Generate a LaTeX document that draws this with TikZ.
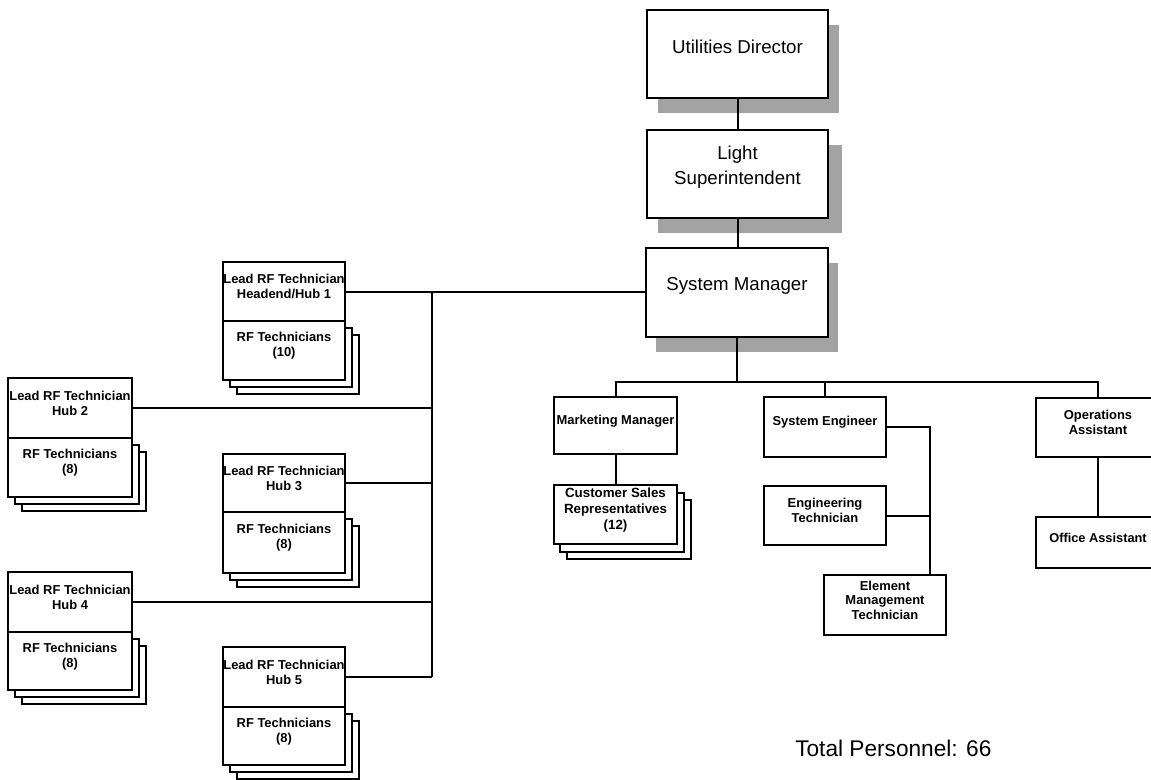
\documentclass[tikz,border=0pt]{standalone}
\usepackage{fontspec}
\setmainfont{Liberation Sans}
\usetikzlibrary{fit}

% A lead box over a stacked "RF Technicians" box.
% #1 name, #2 left, #3 right, #4 top, #5 divider, #6 bottom, #7 hub label, #8 head count
\newcommand\rfstack[8]{%
  \draw[layer] (#2+14,#5+14) rectangle (#3+14,#6+14);
  \draw[layer] (#2+7,#5+7) rectangle (#3+7,#6+7);
  \node[small, fit={(#2,#4) (#3,#5)}] (#1) {Lead RF Technician\\#7};
  \node[small, fit={(#2,#5) (#3,#6)}] (#1t) {RF Technicians\\(#8)};
}

\begin{document}
\begin{tikzpicture}[x=0.75pt,y=-0.75pt,
  box/.style={draw, fill=white, inner sep=0pt, outer sep=0pt, align=center, line width=1.5pt},
  big/.style={box, font=\fontsize{14}{19}\selectfont},
  small/.style={box, font=\bfseries\fontsize{9.7}{11.2}\selectfont},
  shade/.style={fill=black!36, draw=none},
  layer/.style={draw, fill=white, line width=1.5pt},
  wire/.style={line width=1.5pt}]

\useasboundingbox (0,0) rectangle (1151,780);
\clip (0,0) rectangle (1151,780);

% top of the chart, with drop shadows
\fill[shade] (658,25) rectangle (839,113);
\fill[shade] (658,145) rectangle (842,233);
\fill[shade] (656,263) rectangle (838,352);
\node[big, fit={(647,10) (828,98)}] (ud) {Utilities Director};
\node[big, fit={(647,130) (828,218)}] (ls) {Light\\Superintendent};
\node[big, fit={(646,248) (828,337)}] (sm) {System Manager};

% field crews
\rfstack{h1}{223}{345}{262}{321}{380}{Headend/Hub 1}{10}
\rfstack{h2}{8}{132}{378}{438}{497}{Hub 2}{8}
\rfstack{h3}{223}{345}{454}{512}{573}{Hub 3}{8}
\rfstack{h4}{8}{132}{572}{632}{690}{Hub 4}{8}
\rfstack{h5}{223}{345}{647}{707}{765}{Hub 5}{8}

% staff under the system manager
\node[small, fit={(554,397) (677,454)}] (mm) {Marketing Manager};
\draw[layer] (567,500) rectangle (691,559);
\draw[layer] (560,493) rectangle (684,552);
\node[small, font=\bfseries\fontsize{10}{12}\selectfont, fit={(554,485) (677,544)}] (csr) {Customer Sales\\Representatives\\(12)};
\node[small, fit={(764,397) (886,457)}] (se) {System Engineer};
\node[small, fit={(764,486) (886,545)}] (et) {Engineering\\Technician};
\node[small, fit={(824,575) (946,635)}] (emt) {Element\\Management\\Technician};
\node[small, fit={(1036,398) (1160,457)}] (oa) {Operations\\Assistant};
\node[small, font=\bfseries\fontsize{9.6}{11}\selectfont, fit={(1036,517) (1160,568)}] (off) {Office Assistant};

\node[anchor=west, inner sep=0pt, font=\fontsize{17}{20}\selectfont] (total) at (795,748) {Total Personnel: 66};

% connectors
\coordinate (trunk) at (432,292);
\coordinate (trunkend) at (432,677);
\coordinate (busy) at (0,382);
\coordinate (sej) at (930,427);

\draw[wire] (ud.south) -- (ud.south |- ls.north);
\draw[wire] (ls.south) -- (ls.south |- sm.north);
\draw[wire] (h1.east) -- (h1.east -| sm.west);
\draw[wire] (trunk) -- (trunkend);
\draw[wire] (h2.east) -- (h2.east -| trunk);
\draw[wire] (h3.east) -- (h3.east -| trunk);
\draw[wire] (h4.east) -- (h4.east -| trunk);
\draw[wire] (h5.east) -- (h5.east -| trunk);

\draw[wire] (sm.south) -- (sm.south |- busy);
\draw[wire] (mm.north) |- (busy -| oa.north) -- (oa.north);
\draw[wire] (se.north) -- (se.north |- busy);
\draw[wire] (mm.south) -- (mm.south |- csr.north);
\draw[wire] (oa.south) -- (off.north);
\draw[wire] (se.east) -- (sej) -- (sej |- emt.north);
\draw[wire] (et.east) -- (et.east -| sej);

\end{tikzpicture}
\end{document}
